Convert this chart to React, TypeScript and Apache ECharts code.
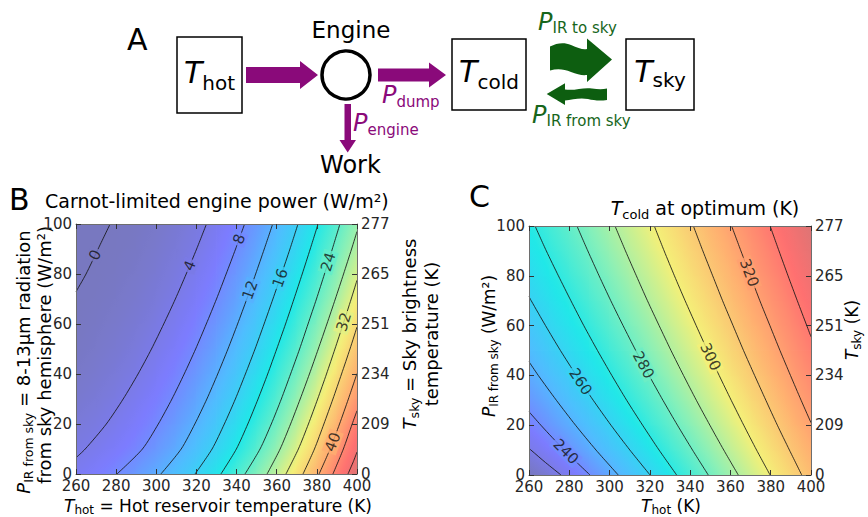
import React, { useEffect, useRef } from "react";
import * as echarts from "echarts";

const FONT = '"DejaVu Sans", sans-serif';
const PURPLE = "#8a0a7a";
const GREEN = "#0d5e10";
const GREEN_TXT = "#17661b";

// ---------- shared axes ----------
const gridT = [260, 270, 280, 290, 300, 310, 320, 330, 340, 350, 360, 370, 380, 390, 400];
const gridP = [0, 10, 20, 30, 40, 50, 60, 70, 80, 90, 100];
const tskyLabels = ["0", "209", "234", "251", "265", "277"];

// ---------- Panel B: Carnot-limited engine power (W/m2), rows = P (0..100), cols = T_hot ----------
const powerRows = [
  [5.2, 6.6, 7.9, 9.75, 11.6, 13.8, 16.2, 19.3, 22.6, 26.1, 30.0, 34.5, 39.5, 45.1, 49.8],
  [3.7, 4.76, 6.16, 7.56, 9.43, 11.5, 14.0, 16.7, 20.0, 23.4, 27.3, 31.6, 36.6, 42.1, 47.8],
  [2.6, 3.4, 4.76, 6.3, 7.85, 9.98, 12.2, 14.9, 18.1, 21.5, 25.1, 29.4, 34.2, 39.3, 45.5],
  [1.53, 2.44, 3.56, 5.07, 6.72, 8.5, 10.8, 13.35, 16.2, 19.75, 23.2, 27.3, 31.8, 37.0, 42.3],
  [0.84, 1.6, 2.61, 3.87, 5.58, 7.32, 9.46, 11.86, 14.7, 18.0, 21.6, 25.3, 29.7, 34.8, 40.0],
  [0.39, 0.98, 1.84, 2.96, 4.44, 6.25, 8.1, 10.6, 13.3, 16.3, 20.0, 23.5, 27.7, 32.5, 37.9],
  [0.12, 0.52, 1.21, 2.19, 3.46, 5.19, 7.08, 9.31, 11.87, 14.9, 18.4, 22.0, 25.9, 30.5, 35.7],
  [0.01, 0.22, 0.73, 1.54, 2.66, 4.1, 6.05, 8.0, 10.65, 13.5, 16.7, 20.5, 24.1, 28.4, 33.5],
  [0, 0.04, 0.36, 1.0, 1.97, 3.25, 5.03, 7.04, 9.41, 12.2, 15.3, 18.95, 22.6, 26.6, 31.4],
  [0, 0, 0.13, 0.6, 1.4, 2.52, 3.98, 6.04, 8.14, 10.9, 13.9, 17.35, 21.2, 25.0, 29.2],
  [0, 0, 0.02, 0.29, 0.92, 1.89, 3.21, 5.05, 7.16, 9.7, 12.6, 15.8, 19.8, 23.4, 27.6],
];

const bC0 = [[260, 72.9], [265, 80], [271, 90], [277, 100]];
const bC4 = [[260, 6.5], [264.6, 10], [275.1, 20], [283.5, 30], [290.9, 40], [297.6, 50], [303.7, 60], [309.5, 70], [314.9, 80], [320.1, 90], [325, 100]];
const bC8 = [[280.4, 0], [293.1, 10], [301, 20], [307.8, 30], [313.9, 40], [319.6, 50], [324.9, 60], [330, 70], [334.8, 80], [339.5, 90], [344, 100]];
const bC12 = [[302.3, 0], [312.4, 10], [319.2, 20], [325.2, 30], [330.6, 40], [335.7, 50], [340.5, 60], [345.1, 70], [349.5, 80], [353.8, 90], [358, 100]];
const bC16 = [[319.3, 0], [327.8, 10], [333.9, 20], [339.4, 30], [344.4, 40], [349.2, 50], [353.7, 60], [358.1, 70], [362.4, 80], [366.6, 90], [370.6, 100]];
const bC20 = [[332.2, 0], [339.9, 10], [345.6, 20], [350.7, 30], [355.5, 40], [360, 50], [364.4, 60], [368.6, 70], [372.7, 80], [376.7, 90], [380.6, 100]];
const bC24 = [[344.2, 0], [351.7, 10], [357.3, 20], [362.3, 30], [366.9, 40], [371.4, 50], [375.6, 60], [379.8, 70], [383.8, 80], [387.7, 90], [391.5, 100]];
const bC28 = [[355.2, 0], [361.7, 10], [366.9, 20], [371.7, 30], [376.3, 40], [380.7, 50], [385, 60], [389.2, 70], [393.3, 80], [397.3, 90], [400, 97]];
const bC32 = [[364.6, 0], [370.8, 10], [375.8, 20], [380.4, 30], [384.8, 40], [389, 50], [393.1, 60], [397.1, 70], [400, 77.5]];
const bC36 = [[373.1, 0], [378.8, 10], [383.5, 20], [388, 30], [392.3, 40], [396.5, 50], [400, 58.8]];
const bC40 = [[381.1, 0], [386.6, 10], [391.3, 20], [395.7, 30], [400, 40.2]];
const bC44 = [[388, 0], [393.2, 10], [397.6, 20], [400, 25.3]];
const bC48 = [[395.5, 0], [398.2, 5], [400, 8.8]];
const bLevels = [0, 4, 8, 12, 16, 20, 24, 28, 32, 36, 40, 44, 48];
const bContourPts = [bC0, bC4, bC8, bC12, bC16, bC20, bC24, bC28, bC32, bC36, bC40, bC44, bC48];
// contour labels: [level, P position]
const bLabels = [[0, 87.6], [4, 83.3], [8, 94], [12, 73.6], [16, 78.4], [24, 84.8], [32, 60.8], [40, 12.8]];

// ---------- Panel C: T_cold at optimum (K) ----------
const tcoldRows = [
  [219.0, 225.9, 232.8, 239.8, 246.9, 253.6, 259.9, 267.5, 274.3, 280.7, 287.4, 293.9, 300.2, 306.6, 312.8],
  [229.4, 235.4, 241.5, 247.9, 254.0, 259.9, 266.8, 273.3, 279.3, 285.7, 292.0, 298.2, 304.3, 310.4, 316.3],
  [236.8, 242.4, 248.2, 253.9, 259.6, 265.9, 272.1, 277.9, 283.9, 290.1, 296.1, 302.0, 308.0, 313.9, 319.7],
  [242.6, 248.0, 253.5, 259.0, 264.9, 270.8, 276.4, 282.1, 288.1, 294.0, 299.8, 305.6, 311.4, 317.1, 322.8],
  [247.6, 252.9, 258.1, 263.7, 269.4, 274.8, 280.2, 286.1, 291.9, 297.5, 303.2, 308.9, 314.5, 320.1, 325.7],
  [251.9, 257.1, 262.4, 267.8, 273.2, 278.4, 284.0, 289.7, 295.2, 300.8, 306.4, 311.9, 317.5, 323.0, 328.5],
  [255.8, 260.9, 266.2, 271.4, 276.6, 281.8, 287.4, 292.9, 298.4, 303.8, 309.3, 314.8, 320.2, 325.7, 331.2],
  [259.5, 264.5, 269.6, 274.6, 279.7, 285.2, 290.6, 296.0, 301.3, 306.7, 312.1, 317.5, 322.9, 328.3, 333.7],
  [262.8, 267.7, 272.7, 277.6, 282.8, 288.2, 293.5, 298.8, 304.1, 309.4, 314.7, 320.1, 325.4, 330.8, 336.1],
  [265.8, 270.7, 275.5, 280.4, 285.8, 291.1, 296.3, 301.5, 306.7, 312.0, 317.2, 322.5, 327.8, 333.1, 338.5],
  [268.6, 273.4, 278.2, 283.3, 288.6, 293.7, 298.9, 304.0, 309.2, 314.4, 319.7, 324.9, 330.2, 335.4, 340.6],
];

const cC230 = [[260, 10.7], [261, 10], [268.2, 5], [275.9, 0]];
const cC240 = [[260, 25.4], [265.9, 20], [271.6, 15], [277.6, 10], [283.8, 5], [290.3, 0]];
const cC250 = [[260, 45.5], [264.6, 40], [273.6, 30], [283.1, 20], [293.3, 10], [304.3, 0]];
const cC260 = [[260, 71.7], [261.1, 70], [268.2, 60], [275.6, 50], [283.5, 40], [291.9, 30], [300.7, 20], [310.1, 10], [320.1, 0]];
const cC270 = [[263, 100], [268.6, 90], [274.6, 80], [280.8, 70], [287.2, 60], [294, 50], [301.1, 40], [308.5, 30], [316.4, 20], [324.6, 10], [333.3, 0]];
const cC280 = [[283.8, 100], [289.2, 90], [294.8, 80], [300.6, 70], [306.7, 60], [313, 50], [319.6, 40], [326.5, 30], [333.7, 20], [341.2, 10], [349, 0]];
const cC290 = [[302.7, 100], [307.9, 90], [313.3, 80], [318.8, 70], [324.6, 60], [330.5, 50], [336.7, 40], [343.1, 30], [349.8, 20], [356.7, 10], [363.9, 0]];
const cC300 = [[322.2, 100], [327.1, 90], [332.2, 80], [337.5, 70], [343, 60], [348.6, 50], [354.4, 40], [360.4, 30], [366.6, 20], [373, 10], [379.7, 0]];
const cC310 = [[341.6, 100], [346.3, 90], [351.2, 80], [356.1, 70], [361.3, 60], [366.5, 50], [372, 40], [377.6, 30], [383.3, 20], [389.3, 10], [395.4, 0]];
const cC320 = [[360.6, 100], [365.2, 90], [369.9, 80], [374.6, 70], [379.6, 60], [384.6, 50], [389.8, 40], [395.1, 30], [400, 21]];
const cC330 = [[379.7, 100], [384.1, 90], [388.6, 80], [393.2, 70], [397.9, 60], [400, 55.5]];
const cLevels = [230, 240, 250, 260, 270, 280, 290, 300, 310, 320, 330];
const cContourPts = [cC230, cC240, cC250, cC260, cC270, cC280, cC290, cC300, cC310, cC320, cC330];
const cLabels = [[240, 9.4], [260, 37.5], [280, 44.2], [300, 47.5], [320, 81.2]];

// ---------- layout ----------
const GRID_B = { left: 76, top: 224, width: 281, height: 250 };
const GRID_C = { left: 529, top: 226, width: 282, height: 249 };

// ---------- colormap ----------
const CMAP: [number, number[]][] = [
  [0, [120, 120, 192]],
  [0.125, [124, 124, 255]],
  [0.25, [80, 188, 255]],
  [0.375, [32, 232, 232]],
  [0.5, [136, 240, 184]],
  [0.625, [244, 240, 120]],
  [0.75, [255, 176, 112]],
  [0.875, [255, 112, 112]],
  [1, [192, 120, 120]],
];
function cmapT(t: number): string {
  const x = Math.max(0, Math.min(1, t));
  for (let k = 0; k < CMAP.length - 1; k++) {
    const [t0, c0] = CMAP[k];
    const [t1, c1] = CMAP[k + 1];
    if (x <= t1) {
      const f = (x - t0) / (t1 - t0);
      const c = c0.map((v, i) => Math.round(v + f * (c1[i] - v)));
      return `rgb(${c[0]},${c[1]},${c[2]})`;
    }
  }
  const c = CMAP[CMAP.length - 1][1];
  return `rgb(${c[0]},${c[1]},${c[2]})`;
}
const cmapB = (v: number) => cmapT(v / 53);
const cmapC = (v: number) => cmapT((v - 220) / 128);

// ---------- helpers ----------
function buildCells(Ts: number[], Ps: number[], rows: number[][]) {
  const out: number[][] = [];
  for (let j = 0; j < Ps.length - 1; j++)
    for (let i = 0; i < Ts.length - 1; i++)
      out.push([Ts[i], Ps[j], Ts[i + 1], Ps[j + 1], rows[j][i], rows[j][i + 1], rows[j + 1][i], rows[j + 1][i + 1]]);
  return out;
}

function makeRenderer(cmap: (v: number) => string) {
  return (_params: any, api: any) => {
    const T0 = api.value(0), P0 = api.value(1), T1 = api.value(2), P1 = api.value(3);
    const v00 = api.value(4), v10 = api.value(5), v01 = api.value(6), v11 = api.value(7);
    const a = api.coord([T0, P1]);
    const b = api.coord([T1, P0]);
    const bx = (v11 + v10 - v01 - v00) / 2;
    const by = (v00 + v10 - v01 - v11) / 2;
    const vc = (v00 + v10 + v01 + v11) / 4;
    const half = 0.5 * (Math.abs(bx) + Math.abs(by));
    const n2 = bx * bx + by * by;
    let fill: any;
    if (n2 < 1e-9) fill = cmap(vc);
    else {
      const k = half / n2;
      const stops = [];
      for (let s = 0; s <= 6; s++) {
        const f = s / 6;
        stops.push({ offset: f, color: cmap(vc + (2 * f - 1) * half) });
      }
      fill = { type: "linear", x: 0.5 - k * bx, y: 0.5 - k * by, x2: 0.5 + k * bx, y2: 0.5 + k * by, colorStops: stops, global: false };
    }
    return {
      type: "rect",
      shape: { x: a[0] - 0.4, y: a[1] - 0.4, width: b[0] - a[0] + 0.8, height: b[1] - a[1] + 0.8 },
      style: { fill },
    };
  };
}

function labelItems(labels: number[][], levels: number[], contours: number[][][], grid: any, cmap: (v: number) => string) {
  const items: any[] = [];
  labels.forEach(([level, P]) => {
    const pts = contours[levels.indexOf(level)];
    for (let k = 0; k < pts.length - 1; k++) {
      const p1 = pts[k], p2 = pts[k + 1];
      const lo = Math.min(p1[1], p2[1]), hi = Math.max(p1[1], p2[1]);
      if (P >= lo && P <= hi && hi > lo) {
        const f = (P - p1[1]) / (p2[1] - p1[1]);
        const T = p1[0] + f * (p2[0] - p1[0]);
        const dx = ((p2[0] - p1[0]) * grid.width) / 140;
        const dy = ((p2[1] - p1[1]) * grid.height) / 100;
        let ang = (Math.atan2(dy, dx) * 180) / Math.PI;
        if (ang > 90) ang -= 180;
        if (ang < -90) ang += 180;
        items.push({
          value: [T, P],
          label: { formatter: String(level), rotate: ang, backgroundColor: cmap(level) },
        });
        break;
      }
    }
  });
  return items;
}

let measureCtx: CanvasRenderingContext2D | null = null;
function measure(text: string, size: number, italic?: boolean) {
  if (!measureCtx) measureCtx = document.createElement("canvas").getContext("2d");
  measureCtx!.font = `${italic ? "italic " : ""}${size}px "DejaVu Sans"`;
  return measureCtx!.measureText(text).width;
}

type Piece = { t: string; s: number; i?: boolean; dy?: number; c?: string };
function textRun(pieces: Piece[], x: number, y: number, anchor: "left" | "center", color: string, rotate = false) {
  const widths = pieces.map((p) => measure(p.t, p.s, p.i));
  const total = widths.reduce((a, b) => a + b, 0);
  let cur = anchor === "center" ? -total / 2 : 0;
  const children = pieces.map((p, k) => {
    const trimmed = p.t.replace(/^\s+/, "");
    const lead = p.t.length - trimmed.length;
    const off = lead > 0 ? measure(" ".repeat(lead), p.s, p.i) : 0;
    const el = {
      type: "text",
      x: cur + off,
      y: (p.dy || 0) - 0.346 * p.s,
      style: {
        text: trimmed,
        fontSize: p.s,
        fontFamily: FONT,
        fontStyle: p.i ? "italic" : "normal",
        fill: p.c || color,
        align: "left",
        verticalAlign: "middle",
        textAlign: "left",
        textVerticalAlign: "middle",
      },
    };
    cur += widths[k];
    return el;
  });
  return { type: "group", x, y, rotation: rotate ? Math.PI / 2 : 0, silent: true, children };
}

// ---------- arrow shapes ----------
const WAVY_RIGHT =
  "M550,46.5 C557,43 564,42 571,45 C578,48 583,50 587,49 L587,38.5 L612,59.5 L587,82 L587,75 C582,75.5 577,74.5 571,72 C564,69 557,68.5 550,70.5 Z";
const WAVY_LEFT =
  "M546.7,94 L565,83.3 L565,89.5 C575,91 583,87 592,88.5 C598,89.5 603,89.5 607,88.5 L607,100 C600,101 594,100.5 588,99 C580,97.5 572,99.5 565,100.5 L565,105 Z";
echarts.graphic.registerShape("wavyRight", echarts.graphic.extendPath(WAVY_RIGHT, {}) as any);
echarts.graphic.registerShape("wavyLeft", echarts.graphic.extendPath(WAVY_LEFT, {}) as any);

function xAx(gridIndex: number, position: string, showLabel: boolean) {
  return {
    type: "value",
    gridIndex,
    position,
    min: 260,
    max: 400,
    interval: 20,
    z: 10,
    axisLine: { show: true, onZero: false, lineStyle: { color: "#6e6e6e", width: 1 } },
    axisTick: { show: true, inside: true, length: 5, lineStyle: { color: "#333", width: 1 } },
    axisLabel: { show: showLabel, fontSize: 15, color: "#262626", fontFamily: FONT, margin: 4, showMinLabel: true, showMaxLabel: true },
    splitLine: { show: false },
  };
}
function yAx(gridIndex: number, position: string, formatter?: (v: number) => string) {
  return {
    type: "value",
    gridIndex,
    position,
    min: 0,
    max: 100,
    interval: 20,
    z: 10,
    axisLine: { show: true, onZero: false, lineStyle: { color: "#6e6e6e", width: 1 } },
    axisTick: { show: true, inside: true, length: 5, lineStyle: { color: "#333", width: 1 } },
    axisLabel: {
      show: true,
      fontSize: 15,
      color: "#262626",
      fontFamily: FONT,
      margin: 4,
      showMinLabel: true,
      showMaxLabel: true,
      formatter: formatter || ((v: number) => String(v)),
    },
    splitLine: { show: false },
  };
}

function contourSeries(levels: number[], pts: number[][][], xi: number, yi: number) {
  return levels.map((lv, k) => ({
    type: "line",
    name: `c${lv}`,
    xAxisIndex: xi,
    yAxisIndex: yi,
    data: pts[k],
    symbol: "none",
    showSymbol: false,
    smooth: 0.25,
    silent: true,
    clip: true,
    z: 3,
    lineStyle: { color: "#161616", width: 1, opacity: 0.85 },
  }));
}

function labelSeries(items: any[], xi: number, yi: number) {
  return {
    type: "scatter",
    xAxisIndex: xi,
    yAxisIndex: yi,
    data: items,
    symbolSize: 1,
    silent: true,
    z: 4,
    itemStyle: { color: "rgba(0,0,0,0)" },
    label: {
      show: true,
      position: "inside",
      fontSize: 15,
      fontFamily: FONT,
      color: "#111",
      padding: [0, 2],
    },
  };
}

function buildOption() {
  const tsky = (v: number) => tskyLabels[Math.round(v / 20)];
  const graphics: any[] = [
    // Panel A
    textRun([{ t: "A", s: 30 }], 127, 50, "left", "#000"),
    { type: "rect", shape: { x: 177, y: 37, width: 65, height: 76 }, style: { fill: "none", stroke: "#000", lineWidth: 1.5 } },
    textRun([{ t: "T", s: 30, i: true }, { t: "hot", s: 20, dy: 7 }], 209.5, 83, "center", "#000"),
    { type: "polygon", shape: { points: [[246, 67], [300, 67], [300, 61], [318, 75], [300, 89], [300, 83], [246, 83]] }, style: { fill: PURPLE } },
    { type: "circle", shape: { cx: 346, cy: 75, r: 24 }, style: { fill: "#fff", stroke: "#000", lineWidth: 3.5 } },
    textRun([{ t: "Engine", s: 23 }], 351, 38, "center", "#000"),
    { type: "polygon", shape: { points: [[378, 68.5], [429, 68.5], [429, 62.5], [446, 75], [429, 87.5], [429, 81.5], [378, 81.5]] }, style: { fill: PURPLE } },
    textRun([{ t: "P", s: 24, i: true }, { t: "dump", s: 15, dy: 4 }], 382, 103, "left", PURPLE),
    { type: "polygon", shape: { points: [[344.5, 104], [351, 104], [351, 140], [356, 140], [347.7, 152.5], [339.5, 140], [344.5, 140]] }, style: { fill: PURPLE } },
    textRun([{ t: "P", s: 24, i: true }, { t: "engine", s: 15, dy: 3.5 }], 353, 131.5, "left", PURPLE),
    textRun([{ t: "Work", s: 24 }], 350.5, 173, "center", "#000"),
    { type: "rect", shape: { x: 452, y: 39, width: 74, height: 71 }, style: { fill: "none", stroke: "#000", lineWidth: 1.5 } },
    textRun([{ t: "T", s: 30, i: true }, { t: "cold", s: 20, dy: 7 }], 489, 82, "center", "#000"),
    { type: "rect", shape: { x: 626, y: 39, width: 68, height: 71 }, style: { fill: "none", stroke: "#000", lineWidth: 1.5 } },
    textRun([{ t: "T", s: 30, i: true }, { t: "sky", s: 20, dy: 5 }], 660, 82, "center", "#000"),
    { type: "wavyRight", x: 0, y: 0, style: { fill: GREEN } },
    { type: "wavyLeft", x: 0, y: 0, style: { fill: GREEN } },
    textRun([{ t: "P", s: 24, i: true }, { t: "IR to sky", s: 15, dy: 3 }], 538, 30, "left", GREEN_TXT),
    textRun([{ t: "P", s: 24, i: true }, { t: "IR from sky", s: 15, dy: 3.5 }], 532, 123, "left", GREEN_TXT),

    // Panel B texts
    textRun([{ t: "B", s: 30 }], 9, 210, "left", "#000"),
    textRun([{ t: "Carnot-limited engine power (W/m²)", s: 19 }], 45, 208, "left", "#000"),
    textRun([{ t: "P", s: 18, i: true }, { t: "IR from sky", s: 12.5, dy: 2.5 }, { t: " = 8-13μm radiation", s: 18 }], 30, 362, "center", "#000", true),
    textRun([{ t: "from sky hemisphere (W/m²)", s: 18 }], 51, 355, "center", "#000", true),
    textRun([{ t: "T", s: 18, i: true }, { t: "sky", s: 12.5, dy: 2.5 }, { t: " = Sky brightness", s: 18 }], 416, 334, "center", "#000", true),
    textRun([{ t: "temperature (K)", s: 18 }], 438, 334, "center", "#000", true),
    textRun([{ t: "T", s: 17, i: true }, { t: "hot", s: 12, dy: 2.5 }, { t: " = Hot reservoir temperature (K)", s: 17 }], 218, 511.5, "center", "#000"),

    // Panel C texts
    textRun([{ t: "C", s: 30 }], 469, 207, "left", "#000"),
    textRun([{ t: "T", s: 19, i: true }, { t: "cold", s: 13, dy: 4 }, { t: " at optimum (K)", s: 19 }], 705, 215, "center", "#000"),
    textRun([{ t: "P", s: 17, i: true }, { t: "IR from sky", s: 12, dy: 3 }, { t: " (W/m²)", s: 17 }], 495, 346, "center", "#000", true),
    textRun([{ t: "T", s: 17, i: true }, { t: "sky", s: 12, dy: 3 }, { t: " (K)", s: 17 }], 858, 330, "center", "#000", true),
    textRun([{ t: "T", s: 17, i: true }, { t: "hot", s: 12, dy: 2.5 }, { t: " (K)", s: 17 }], 671, 511.5, "center", "#000"),
  ];

  return {
    animation: false,
    backgroundColor: "#ffffff",
    textStyle: { fontFamily: FONT },
    grid: [
      { ...GRID_B, containLabel: false, outerBoundsMode: "none" },
      { ...GRID_C, containLabel: false, outerBoundsMode: "none" },
    ],
    xAxis: [xAx(0, "bottom", true), xAx(0, "top", false), xAx(1, "bottom", true), xAx(1, "top", false)],
    yAxis: [yAx(0, "left"), yAx(0, "right", tsky), yAx(1, "left"), yAx(1, "right", tsky)],
    series: [
      {
        type: "custom",
        xAxisIndex: 0,
        yAxisIndex: 0,
        data: buildCells(gridT, gridP, powerRows),
        renderItem: makeRenderer(cmapB),
        clip: true,
        silent: true,
        z: 1,
      },
      {
        type: "custom",
        xAxisIndex: 2,
        yAxisIndex: 2,
        data: buildCells(gridT, gridP, tcoldRows),
        renderItem: makeRenderer(cmapC),
        clip: true,
        silent: true,
        z: 1,
      },
      ...contourSeries(bLevels, bContourPts, 0, 0),
      ...contourSeries(cLevels, cContourPts, 2, 2),
      labelSeries(labelItems(bLabels, bLevels, bContourPts, GRID_B, cmapB), 0, 0),
      labelSeries(labelItems(cLabels, cLevels, cContourPts, GRID_C, cmapC), 2, 2),
    ],
    graphic: { elements: graphics },
  };
}

export default function App() {
  const ref = useRef<HTMLDivElement>(null);
  useEffect(() => {
    const chart = echarts.init(ref.current!, null, { renderer: "svg" });
    chart.setOption(buildOption() as any);
    return () => chart.dispose();
  }, []);
  return (
    <div
      ref={ref}
      style={{ position: "absolute", left: 0, top: 0, width: 868, height: 517, background: "#fff" }}
    />
  );
}
